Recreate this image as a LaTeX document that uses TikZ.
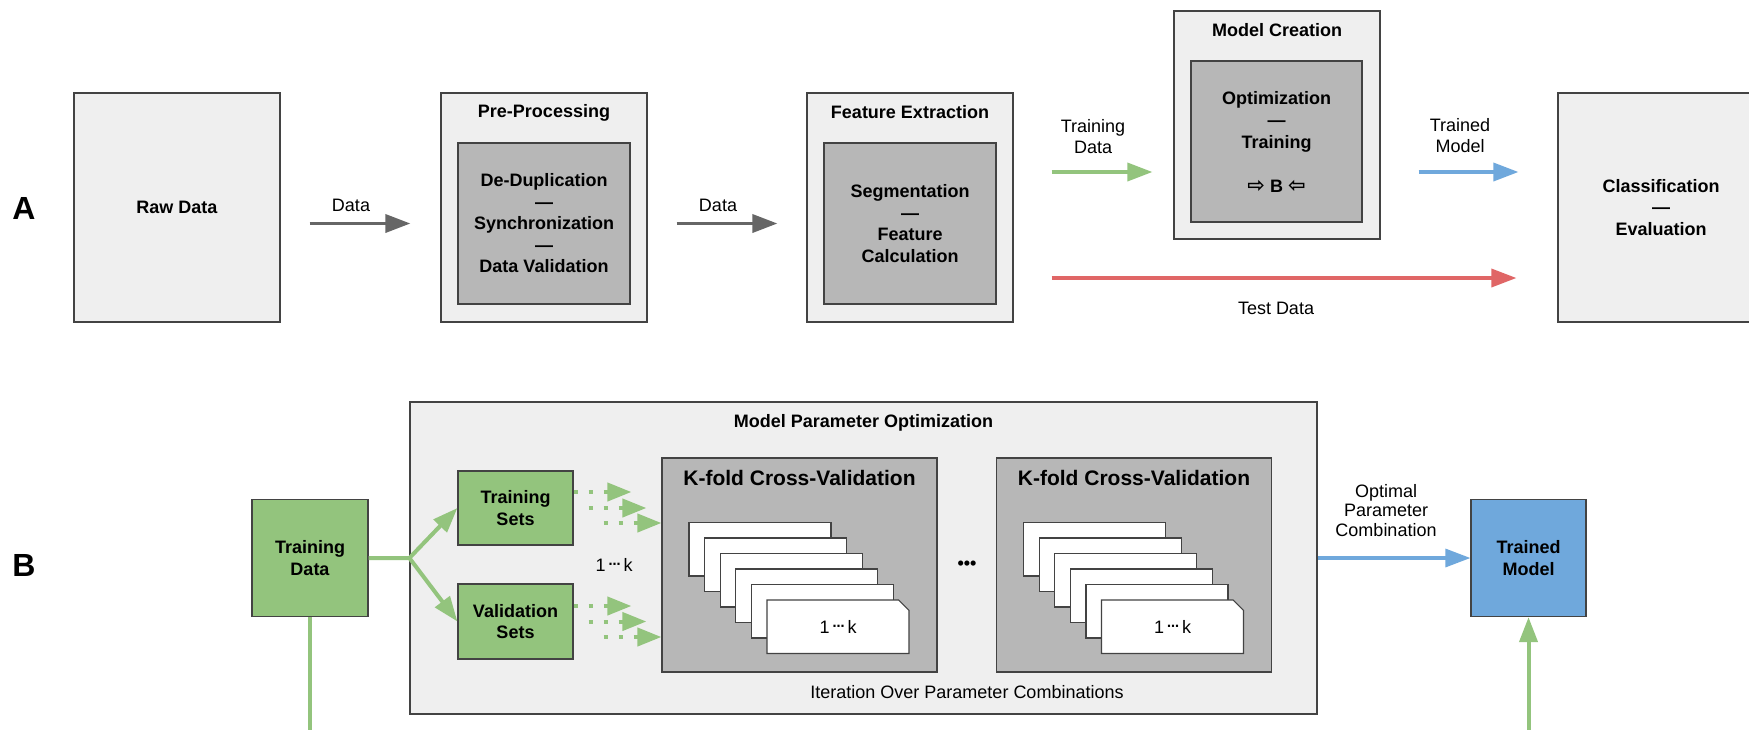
\documentclass[tikz,border=0pt]{standalone}
\usepackage{fontspec}
\setmainfont{Liberation Sans}
\newfontfamily\symfont{DejaVu Sans}
\usetikzlibrary{arrows.meta,shapes.misc,calc}

\definecolor{lightfill}{HTML}{EFEFEF}
\definecolor{midfill}{HTML}{B7B7B7}
\definecolor{edge}{HTML}{434343}
\definecolor{arrowgray}{HTML}{666666}
\definecolor{leaf}{HTML}{93C47D}
\definecolor{sky}{HTML}{6FA8DC}
\definecolor{rose}{HTML}{E06666}

\tikzset{
  stage/.style={draw=edge, line width=0.6pt, fill=lightfill, minimum width=103pt,
    minimum height=114.5pt, inner sep=0pt, align=center,
    font=\bfseries\fontsize{9}{10.75}\selectfont},
  core/.style={draw=edge, line width=0.6pt, fill=midfill, minimum width=86pt,
    minimum height=80.5pt, inner sep=0pt, align=center,
    font=\bfseries\fontsize{9}{10.75}\selectfont},
  heading/.style={inner sep=0pt, font=\bfseries\fontsize{9}{10.5}\selectfont},
  bigheading/.style={inner sep=0pt, font=\bfseries\fontsize{10.5}{12}\selectfont},
  lbl/.style={inner sep=0pt, align=center, font=\fontsize{9}{10.5}\selectfont},
  panel/.style={inner sep=0pt, font=\bfseries\fontsize{16}{18}\selectfont},
  greenbox/.style={draw=edge, line width=0.6pt, fill=leaf, inner sep=0pt, align=center,
    font=\bfseries\fontsize{9}{10.75}\selectfont},
  kfold/.style={draw=edge, line width=0.6pt, fill=midfill, minimum width=137.5pt,
    minimum height=107pt, inner sep=0pt},
  card/.style={chamfered rectangle, chamfered rectangle corners=north east,
    chamfered rectangle xsep=2.6pt, chamfered rectangle ysep=2.6pt,
    draw=edge, line width=0.6pt, fill=white, minimum width=71pt,
    minimum height=26.75pt, inner sep=0pt, font=\fontsize{9}{10.5}\selectfont},
  flow/.style={line width=1.75pt, -{Triangle[length=12.5pt,width=9pt]}},
  gline/.style={draw=leaf, line width=2pt},
  gflow/.style={draw=leaf, line width=2pt, -{Triangle[length=12.5pt,width=9pt,fill=leaf]}},
  dotflow/.style={draw=leaf, line width=2pt, dash pattern=on 2pt off 5.5pt,
    -{Triangle[length=12pt,width=9pt,fill=leaf]}},
}

\newcommand{\onetok}{1\,\raisebox{1.5pt}{\symfont\bfseries\fontsize{6}{6}\selectfont ⋯}\,k}

\begin{document}
\begin{tikzpicture}[x=0.5pt, y=-0.5pt]
  \useasboundingbox (0,0) rectangle (1749,729);
  \fill[white] (0,0) rectangle (1749,729);
  \clip (0,0) rectangle (1749,729);

  % ---------- A: processing chain ----------
  \node[panel] (labA) at (24,208) {A};

  \node[stage] (raw) at (177,207.5) {Raw Data};

  \node[stage] (pp) at (544,207.5) {};
  \node[heading] (ppT) at ([yshift=-10pt]pp.north) {Pre-Processing};
  \node[core] (ppin) at (544,223.5) {De-Duplication\\—\\Synchronization\\—\\Data Validation};

  \node[stage] (fe) at (910,207.5) {};
  \node[heading] (feT) at ([yshift=-10pt]fe.north) {Feature Extraction};
  \node[core] (fein) at (910,223.5) {Segmentation\\—\\Feature\\Calculation};

  \node[stage, minimum height=114pt] (mc) at (1277,125) {};
  \node[heading] (mcT) at ([yshift=-10pt]mc.north) {Model Creation};
  \node[core, minimum width=85.5pt, font=\bfseries\fontsize{9}{11}\selectfont] (mcin) at (1276.5,141.5)
    {Optimization\\—\\Training\\[11pt]{\symfont\bfseries\fontsize{10.5}{11}\selectfont ⇨} B {\symfont\bfseries\fontsize{10.5}{11}\selectfont ⇦}};

  \node[stage] (cls) at (1661,207.5) {Classification\\—\\Evaluation};

  % arrows of the chain
  \draw[flow, arrowgray, shorten <=14.5pt, shorten >=15pt]
    (raw.east |- ppin.west) -- (pp.west |- ppin.west);
  \node[lbl] (d1) at (351,205) {Data};

  \draw[flow, arrowgray, shorten <=14.5pt, shorten >=14.5pt]
    (pp.east |- fein.west) -- (fe.west |- fein.west);
  \node[lbl] (d2) at (718,205) {Data};

  \draw[flow, leaf, shorten <=19pt, shorten >=10.5pt]
    ($(fe.east)+(0,17.75pt)$) -- ($(fe.east -| mc.west)+(0,17.75pt)$);
  \node[lbl] (trd) at (1093,137) {Training\\Data};

  \draw[flow, rose, shorten <=19pt, shorten >=20.5pt]
    ($(fe.east)+(0,-35.25pt)$) -- ($(fe.east -| cls.west)+(0,-35.25pt)$);
  \node[lbl] (tsd) at (1276,308) {Test Data};

  \draw[flow, sky, shorten <=19pt, shorten >=19.5pt]
    ($(mc.east)+(0,-23.5pt)$) -- ($(mc.east -| cls.west)+(0,-23.5pt)$);
  \node[lbl] (trm) at (1460,136) {Trained\\Model};

  % ---------- B: parameter optimisation ----------
  \node[panel] (labB) at (24,565) {B};

  \node[greenbox, minimum width=58pt, minimum height=58.5pt] (td) at (310,558) {Training\\Data};

  \node[draw=edge, line width=0.6pt, fill=lightfill, minimum width=453.5pt,
        minimum height=156pt, inner sep=0pt] (mpo) at (863.5,558) {};
  \node[heading] (mpoT) at ([yshift=-10.5pt]mpo.north) {Model Parameter Optimization};

  \node[greenbox, minimum width=57.5pt, minimum height=37pt] (ts) at (515.5,508) {Training\\Sets};
  \node[greenbox, minimum width=57.5pt, minimum height=37.5pt] (vs) at (515.5,621.5) {Validation\\Sets};

  \node[kfold] (kf1) at (799.5,565) {};
  \node[bigheading] (kf1T) at ([yshift=-10.5pt]kf1.north) {K-fold Cross-Validation};
  \node[kfold] (kf2) at (1134,565) {};
  \node[bigheading] (kf2T) at ([yshift=-10.5pt]kf2.north) {K-fold Cross-Validation};

  % stacked folds
  \foreach \i in {0,...,4} {
    \node[card] (fa\i) at ({760+15.6*\i},{549.25+15.5*\i}) {};
    \node[card] (fb\i) at ({1094.5+15.6*\i},{549.25+15.5*\i}) {};
  }
  \node[card] (fa5) at (838,626.75) {\onetok};
  \node[card] (fb5) at (1172.5,626.75) {\onetok};

  \node[inner sep=0pt, font=\bfseries\fontsize{9}{10}\selectfont] (more) at (967,565) {•••};
  \node[lbl] (iter) at (967,692) {Iteration Over Parameter Combinations};
  \node[lbl] (folds) at (614,565) {\onetok};

  \node[greenbox, fill=sky, minimum width=57.5pt, minimum height=58.5pt] (tm) at (1528.5,558) {Trained\\Model};

  % connectors of B
  \draw[gflow] (td.east) -- (mpo.west) -- (ts.west);
  \draw[gflow] (mpo.west) -- (vs.west);

  \coordinate (tdfoot) at (td.south |- 0,745);
  \draw[gline] (td.south) -- (tdfoot);

  \coordinate (tmfoot) at (tm.south |- 0,745);
  \draw[gflow] (tmfoot) -- (tm.south);

  \draw[dotflow] ($(ts.east)+(0,8pt)$) -- ($(ts.east -| kf1.west)+(-15pt,8pt)$);
  \draw[dotflow] ($(ts.east)+(7.5pt,0)$) -- ($(ts.east -| kf1.west)+(-7.5pt,0)$);
  \draw[dotflow] ($(ts.east)+(15pt,-7.5pt)$) -- ($(ts.east -| kf1.west)+(0,-7.5pt)$);

  \draw[dotflow] ($(vs.east)+(0,7.75pt)$) -- ($(vs.east -| kf1.west)+(-15pt,7.75pt)$);
  \draw[dotflow] ($(vs.east)+(7.5pt,0)$) -- ($(vs.east -| kf1.west)+(-7.5pt,0)$);
  \draw[dotflow] ($(vs.east)+(15pt,-7.75pt)$) -- ($(vs.east -| kf1.west)+(0,-7.75pt)$);

  \draw[flow, sky, line width=1.6pt] (mpo.east) -- (tm.west);
  \node[lbl, font=\fontsize{9}{9.75}\selectfont] (opt) at (1386,510.5) {Optimal\\Parameter\\Combination};
\end{tikzpicture}
\end{document}
